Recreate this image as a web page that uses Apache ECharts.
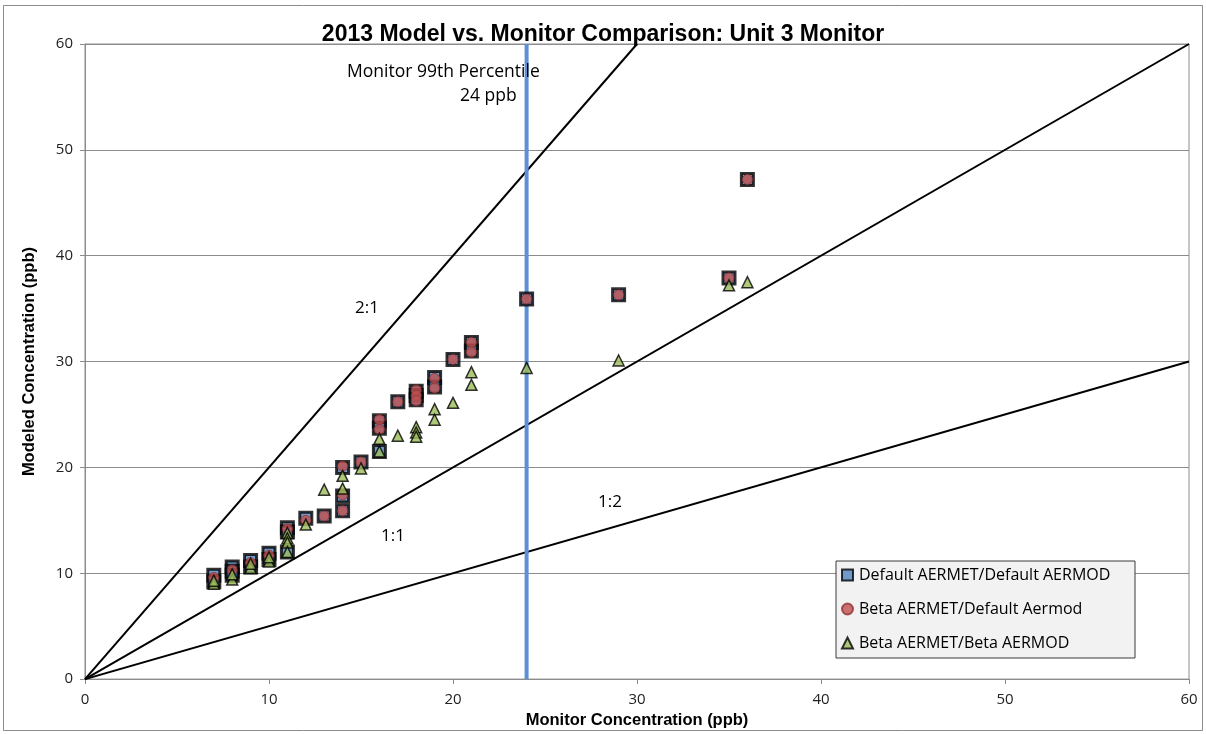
<!DOCTYPE html>
<html>
<head>
<meta charset="utf-8">
<script src="https://cdn.jsdelivr.net/npm/echarts@6/dist/echarts.min.js"></script>
<style>
  html, body { margin: 0; padding: 0; background: #fff; }
  #chart { width: 1206px; height: 734px; }
</style>
</head>
<body>
<div id="chart"></div>
<script>
// Monitor concentration (ppb) and modeled concentrations (ppb) for each model configuration
const defaultX = [7, 7, 8, 8, 8, 9, 9, 10, 10, 11, 11, 11, 12, 13, 14, 14, 14, 15, 16, 16, 16, 17, 18, 18, 18, 19, 19, 20, 21, 21, 24, 29, 35, 36];
const defaultY = [9.8, 9.2, 10.6, 10.2, 9.8, 11.2, 10.6, 11.9, 11.3, 14.3, 13.9, 12.0, 15.2, 15.4, 20.0, 17.3, 15.9, 20.5, 24.4, 23.7, 21.5, 26.2, 27.2, 26.8, 26.4, 28.5, 27.6, 30.2, 31.8, 31.0, 35.9, 36.3, 37.9, 47.2];

const betaDefX = [7, 8, 9, 10, 11, 12, 13, 14, 14, 14, 15, 16, 16, 17, 18, 18, 18, 19, 19, 20, 21, 21, 24, 29, 35, 36];
const betaDefY = [9.6, 10.3, 11.0, 11.7, 14.2, 15.0, 15.4, 20.1, 17.4, 15.9, 20.5, 24.5, 23.6, 26.2, 27.3, 26.8, 26.3, 28.4, 27.5, 30.2, 31.8, 30.9, 35.9, 36.3, 37.9, 47.2];

const betaBetaX = [7, 7, 8, 8, 9, 9, 10, 10, 11, 11, 11, 11, 12, 13, 14, 14, 15, 16, 16, 17, 18, 18, 18, 19, 19, 20, 21, 21, 24, 29, 35, 36];
const betaBetaY = [9.0, 9.3, 9.4, 9.9, 10.5, 10.9, 11.1, 11.5, 13.8, 13.3, 12.9, 12.0, 14.6, 17.9, 19.2, 18.0, 19.9, 22.7, 21.5, 23.0, 23.8, 23.3, 22.9, 25.5, 24.5, 26.1, 29.0, 27.8, 29.4, 30.1, 37.2, 37.5];

// Reference ratio lines (modeled : monitor) and the monitor 99th percentile
const ratios = [2, 1, 0.5];
const percentile99 = 24;

const axisMin = 0, axisMax = 60, axisStep = 10;

const seriesNames = ['Default AERMET/Default AERMOD', 'Beta AERMET/Default Aermod', 'Beta AERMET/Beta AERMOD'];

const pairs = (xs, ys) => xs.map((x, i) => [x, ys[i]]);

// each ratio line runs from the origin to where it leaves the plot
const ratioLine = r => {
  const xEnd = Math.min(axisMax, axisMax / r);
  return [[0, 0], [xEnd, xEnd * r]];
};

const boldFont = "'Liberation Sans', sans-serif";
const textFont = "'Open Sans', sans-serif";

const chart = echarts.init(document.getElementById('chart'), null, { renderer: 'canvas' });

const option = {
  backgroundColor: '#ffffff',
  animation: false,
  title: {
    text: '2013 Model vs. Monitor Comparison: Unit 3 Monitor',
    left: 'center',
    top: 18,
    textStyle: { fontFamily: boldFont, fontWeight: 'bold', fontSize: 23, color: '#000' }
  },
  grid: {
    left: 85, right: 17, top: 44, bottom: 54,
    show: true, borderColor: '#8c8c8c', borderWidth: 1
  },
  xAxis: {
    type: 'value', min: axisMin, max: axisMax, interval: axisStep,
    name: 'Monitor Concentration (ppb)', nameLocation: 'middle', nameGap: 31,
    nameTextStyle: { fontFamily: boldFont, fontWeight: 'bold', fontSize: 16.5, color: '#000' },
    axisLine: { lineStyle: { color: '#8c8c8c', width: 1 } },
    axisTick: { show: true, length: 5, lineStyle: { color: '#8c8c8c' } },
    axisLabel: { fontFamily: textFont, fontSize: 15, color: '#222', margin: 13 },
    splitLine: { show: false }
  },
  yAxis: {
    type: 'value', min: axisMin, max: axisMax, interval: axisStep,
    name: 'Modeled Concentration (ppb)', nameLocation: 'middle', nameGap: 47, nameRotate: 90,
    nameTextStyle: { fontFamily: boldFont, fontWeight: 'bold', fontSize: 16.5, color: '#000' },
    axisLine: { show: true, lineStyle: { color: '#8c8c8c', width: 1 } },
    axisTick: { show: true, length: 5, lineStyle: { color: '#8c8c8c' } },
    axisLabel: { fontFamily: textFont, fontSize: 15, color: '#222', margin: 12 },
    splitLine: { show: true, lineStyle: { color: '#8c8c8c', width: 1 } }
  },
  legend: {
    orient: 'vertical',
    left: 841, top: 567,
    data: seriesNames,
    itemWidth: 11, itemHeight: 11, itemGap: 18,
    padding: 0,
    textStyle: { fontFamily: textFont, fontSize: 16, color: '#000', padding: [0, 0, 0, 1] }
  },
  graphic: [
    {
      type: 'rect', z: 1,
      shape: { x: 836, y: 561, width: 299, height: 97 },
      style: { fill: '#f2f2f2', stroke: '#3a3a3a', lineWidth: 1 }
    },
    {
      type: 'rect', z: 0, silent: true,
      shape: { x: 3.5, y: 5.5, width: 1199, height: 725 },
      style: { fill: 'none', stroke: '#8c8c8c', lineWidth: 1 }
    },
    {
      type: 'text', left: 347, top: 63, z: 10,
      style: { text: 'Monitor 99th Percentile', font: "17.5px 'Open Sans', sans-serif", fill: '#000' }
    },
    {
      type: 'text', left: 460, top: 87, z: 10,
      style: { text: '24 ppb', font: "17.5px 'Open Sans', sans-serif", fill: '#000' }
    },
    {
      type: 'text', left: 355, top: 300, z: 10,
      style: { text: '2:1', font: "17px 'Open Sans', sans-serif", fill: '#000' }
    },
    {
      type: 'text', left: 381, top: 528, z: 10,
      style: { text: '1:1', font: "17px 'Open Sans', sans-serif", fill: '#000' }
    },
    {
      type: 'text', left: 598, top: 494, z: 10,
      style: { text: '1:2', font: "17px 'Open Sans', sans-serif", fill: '#000' }
    }
  ],
  series: [
    ...ratios.map((r, i) => ({
      name: 'ratio' + i,
      type: 'line', data: ratioLine(r), symbol: 'none', z: 2,
      lineStyle: { color: '#000', width: 2 }, silent: true
    })),
    {
      name: 'percentile',
      type: 'line', data: [[percentile99, axisMin], [percentile99, axisMax]],
      symbol: 'none', z: 2, silent: true,
      lineStyle: { color: '#5b8fd8', width: 4 }
    },
    {
      name: seriesNames[0], type: 'scatter', z: 3,
      data: pairs(defaultX, defaultY),
      symbol: 'rect', symbolSize: 12,
      itemStyle: { color: '#4f81bd', borderColor: '#000', borderWidth: 3 }
    },
    {
      name: seriesNames[1], type: 'scatter', z: 4,
      data: pairs(betaDefX, betaDefY),
      symbol: 'circle', symbolSize: 10,
      itemStyle: { color: '#c0504d', borderColor: '#8e3533', borderWidth: 1 }
    },
    {
      name: seriesNames[2], type: 'scatter', z: 5,
      data: pairs(betaBetaX, betaBetaY),
      symbol: 'triangle', symbolSize: 11,
      itemStyle: { color: '#9bbb59', borderColor: '#000', borderWidth: 1.5 }
    }
  ]
};

chart.setOption(option);
</script>
</body>
</html>
